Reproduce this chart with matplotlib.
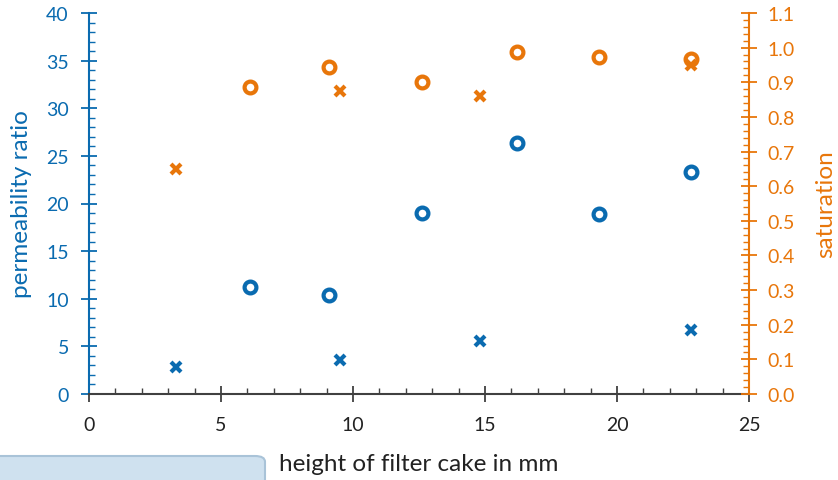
import matplotlib
matplotlib.use("Agg")
import matplotlib.pyplot as plt
from matplotlib.ticker import MultipleLocator, FormatStrFormatter
from matplotlib.patches import FancyBboxPatch

plt.rcParams['font.family'] = ['Lato', 'DejaVu Sans']

BLUE = '#0A6BB0'
ORANGE = '#E8760A'
GRAY = '#404040'

# permeability ratio (left axis)
perm_circle_x = [6.1, 9.1, 12.6, 16.2, 19.3, 22.8]
perm_circle_y = [11.2, 10.4, 19.0, 26.3, 18.9, 23.3]
perm_cross_x = [3.3, 9.5, 14.8, 22.8]
perm_cross_y = [2.8, 3.6, 5.6, 6.7]

# saturation (right axis)
sat_circle_x = [6.1, 9.1, 12.6, 16.2, 19.3, 22.8]
sat_circle_y = [0.887, 0.945, 0.902, 0.988, 0.974, 0.968]
sat_cross_x = [3.3, 9.5, 14.8, 22.8]
sat_cross_y = [0.650, 0.876, 0.861, 0.951]

fig = plt.figure(figsize=(8.38, 4.81), dpi=100)
ax = fig.add_axes([89/838, 1-395/481, 660/838, 381/481])
ax2 = ax.twinx()

ax.set_xlim(0, 25)
ax.set_ylim(0, 40)
ax2.set_ylim(0, 1.1)

ms_o = 8.5
mew_o = 3.0
ax.plot(perm_circle_x, perm_circle_y, 'o', ms=ms_o, mfc='white', mec=BLUE, mew=mew_o, ls='none', clip_on=False)
ax.plot(perm_cross_x, perm_cross_y, 'x', ms=7, mec=BLUE, mew=3.0, ls='none', clip_on=False)
ax2.plot(sat_circle_x, sat_circle_y, 'o', ms=ms_o, mfc='white', mec=ORANGE, mew=mew_o, ls='none', clip_on=False)
ax2.plot(sat_cross_x, sat_cross_y, 'x', ms=7, mec=ORANGE, mew=3.0, ls='none', clip_on=False)

for a in (ax, ax2):
    a.spines['top'].set_visible(False)

ax.spines['right'].set_visible(False)
ax2.spines['left'].set_visible(False)
ax2.spines['bottom'].set_visible(False)
ax.spines['left'].set_color(BLUE)
ax.spines['left'].set_linewidth(1.5)
ax2.spines['right'].set_color(ORANGE)
ax2.spines['right'].set_linewidth(1.5)
ax.spines['bottom'].set_color(GRAY)
ax.spines['bottom'].set_linewidth(1.5)

ax.xaxis.set_major_locator(MultipleLocator(5))
ax.xaxis.set_minor_locator(MultipleLocator(1))
ax.yaxis.set_major_locator(MultipleLocator(5))
ax.yaxis.set_minor_locator(MultipleLocator(1))
ax2.yaxis.set_major_locator(MultipleLocator(0.1))
ax2.yaxis.set_minor_locator(MultipleLocator(0.02))
ax2.yaxis.set_major_formatter(FormatStrFormatter('%.1f'))

fs = 14
lfs = 17.5
ax.tick_params(axis='x', which='major', direction='inout', length=11, width=1.3, color=GRAY, labelsize=fs, labelcolor='#222222', pad=10)
ax.tick_params(axis='x', which='minor', direction='in', length=4, width=1.0, color=GRAY)
ax.tick_params(axis='y', which='major', direction='inout', length=11, width=1.3, color=BLUE, labelsize=fs, labelcolor=BLUE, pad=9)
ax.tick_params(axis='y', which='minor', direction='in', length=4, width=1.0, color=BLUE)
ax2.tick_params(axis='y', which='major', direction='inout', length=11, width=1.3, color=ORANGE, labelsize=fs, labelcolor=ORANGE, pad=8)
ax2.tick_params(axis='y', which='minor', direction='in', length=4, width=1.0, color=ORANGE)

ax.set_ylabel('permeability ratio', color=BLUE, fontsize=lfs, va='center')
ax.yaxis.set_label_coords((22-89)/660, 0.5)
ax2.set_ylabel('saturation', color=ORANGE, fontsize=lfs, va='center')
ax2.yaxis.set_label_coords((826-89)/660, 0.5)
ax.set_xlabel('height of filter cake in mm', color='#222222', fontsize=lfs, va='center')
ax.xaxis.set_label_coords(0.5, (395-465)/381)

box = FancyBboxPatch((-10/838, -20/481), 275/838, 44/481,
                     boxstyle='round,pad=0,rounding_size=0.012',
                     transform=fig.transFigure, facecolor='#CFE1EF',
                     edgecolor='#A9C3D8', linewidth=1.5, clip_on=False)
fig.patches.append(box)

fig.savefig('out.png', dpi=100)
